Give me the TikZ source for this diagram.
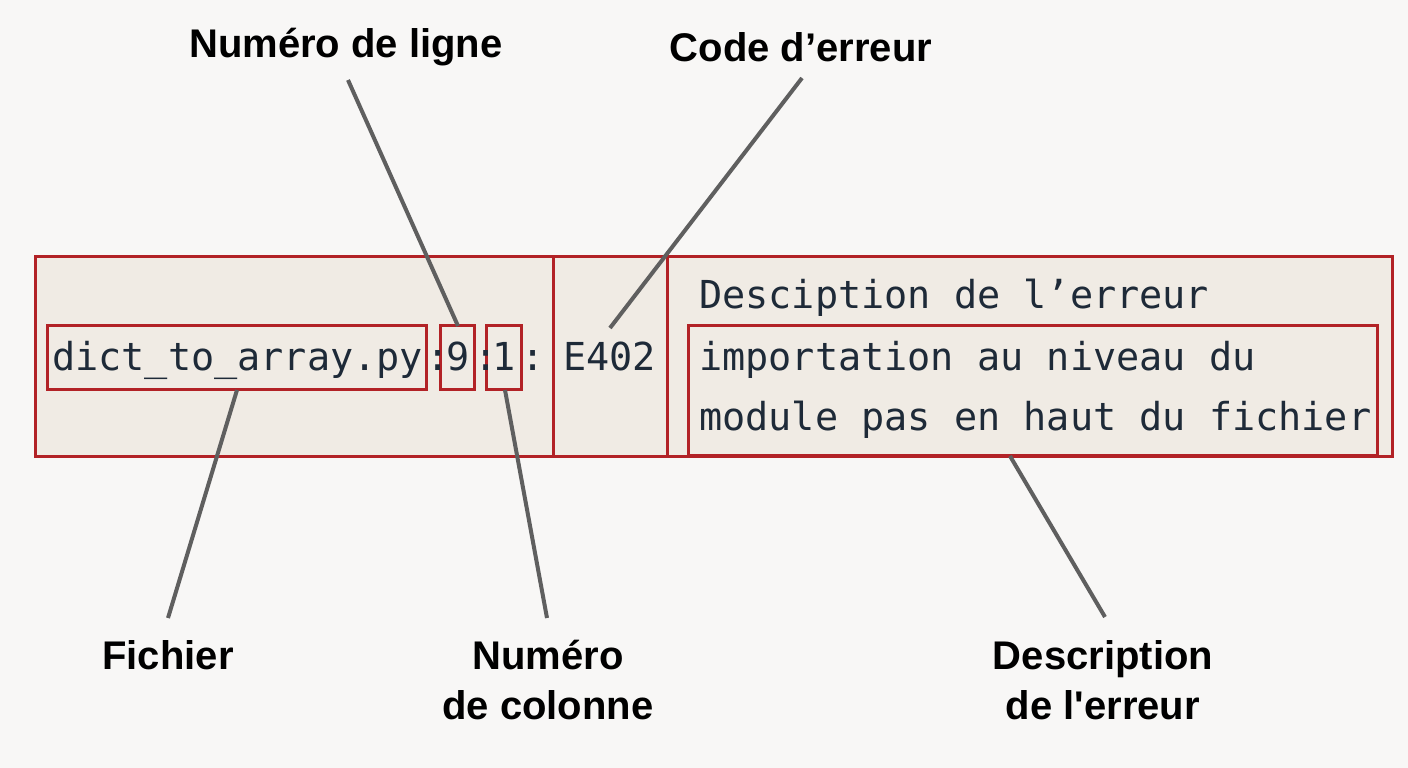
\documentclass[tikz,border=0pt]{standalone}
\usepackage{fontspec}
\setmainfont{Liberation Sans}
\newfontfamily\codefont{DejaVu Sans Mono}
\definecolor{bg}{HTML}{F8F7F6}
\definecolor{boxfill}{HTML}{F0EBE4}
\definecolor{red}{HTML}{B22226}
\definecolor{ink}{HTML}{1E2A38}
\definecolor{lead}{HTML}{5F5F5F}
\begin{document}
\begin{tikzpicture}[x=1pt,y=-1pt,
 code/.style={font=\codefont\fontsize{38.5}{40}\selectfont,text=ink,inner sep=0,anchor=base west},
 lab/.style={font=\bfseries\fontsize{40}{50}\selectfont,align=center,text=black,inner sep=0},
 rbox/.style={draw=red,line width=3pt},
 leader/.style={draw=lead,line width=4pt}]
\useasboundingbox[fill=bg] (0,0) rectangle (1408,768);
\fill[boxfill] (35,256) rectangle (1392,456);
\draw[rbox] (35,256) rectangle (1392,456);
\draw[rbox] (553,256) -- (553,456);
\draw[rbox] (667,256) -- (667,456);
\node[rbox,minimum width=379,minimum height=64,inner sep=0] (file) at (236.5,357) {};
\node[rbox,minimum width=34,minimum height=64,inner sep=0] (line) at (457,357) {};
\node[rbox,minimum width=35,minimum height=64,inner sep=0] (col) at (503.5,357) {};
\node[rbox,minimum width=689,minimum height=130,inner sep=0] (desc) at (1032.5,390) {};
\node[code] (t1) at (52,370) {dict\_to\_array.py};
\node[code] at (426,370) {:};
\node[code] (t9) at (446,370) {9};
\node[code] at (474,370) {:};
\node[code] (t1c) at (492,370) {1};
\node[code] at (521,370) {:};
\node[code] (err) at (563,370) {E402};
\node[code] at (699,308) {Desciption de l’erreur};
\node[code] at (699,370) {importation au niveau du};
\node[code] at (699,430) {module pas en haut du fichier};
\node[lab] (Lligne) at (346,47) {Numéro de ligne};
\node[lab] (Lcode) at (801,47) {Code d’erreur};
\node[lab] (Lfich) at (168,655) {Fichier};
\node[lab] (Lcol) at (548,680) {Numéro\\de colonne};
\node[lab] (Ldesc) at (1103,680) {Description\\de l\textquotesingle erreur};
\coordinate (a1) at (348,80); \coordinate (a2) at (458,326);
\coordinate (b1) at (802,78); \coordinate (b2) at (610,328);
\coordinate (c1) at (237,390); \coordinate (c2) at (168,618);
\coordinate (d1) at (505,390); \coordinate (d2) at (547,618);
\coordinate (e1) at (1010,456); \coordinate (e2) at (1105,617);
\draw[leader] (a1) -- (a2);
\draw[leader] (b1) -- (b2);
\draw[leader] (c1) -- (c2);
\draw[leader] (d1) -- (d2);
\draw[leader] (e1) -- (e2);
\end{tikzpicture}
\end{document}
